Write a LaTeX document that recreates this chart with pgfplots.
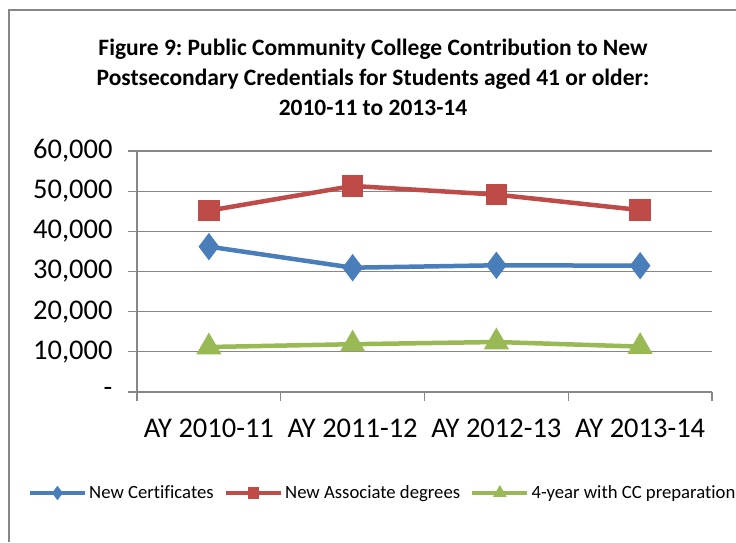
\documentclass[border=0pt]{standalone}
\usepackage{pgfplots}
\pgfplotsset{compat=1.18}
\usepackage{fontspec}
\setmainfont[Ligatures=NoCommon]{Carlito}
\frenchspacing
\definecolor{cblue}{HTML}{4A7EBB}
\definecolor{cred}{HTML}{BE4B48}
\definecolor{cgreen}{HTML}{98B954}
\definecolor{cgrid}{HTML}{878787}
\begin{document}
\begin{tikzpicture}[x=1pt,y=1pt]
\useasboundingbox (0,0) rectangle (736,-542);
\draw[cgrid, line width=2pt] (9,-542) -- (9,-10) -- (736,-10);
\node[font=\bfseries\fontsize{23.5}{30}\selectfont, align=center] at (373,-77)
  {Figure 9: Public Community College Contribution to New\\Postsecondary Credentials for Students aged 41 or older:\\2010-11 to 2013-14};
\begin{axis}[
  at={(137pt,-392pt)}, anchor=south west,
  width=575pt, height=241pt, scale only axis,
  xmin=0, xmax=4, ymin=0, ymax=60000,
  scaled y ticks=false,
  axis x line*=bottom, axis y line*=left,
  axis line style={cgrid, line width=1.3pt, -},
  xtick={0,1,2,3,4},
  xticklabels={AY 2010-11,AY 2011-12,AY 2012-13,AY 2013-14,},
  x tick label as interval,
  ytick={0,10000,20000,30000,40000,50000,60000},
  yticklabels={-,{10,000},{20,000},{30,000},{40,000},{50,000},{60,000}},
  tick align=outside, major tick length=9pt,
  tick style={cgrid, line width=1.3pt},
  ymajorgrids, grid style={cgrid, line width=1.3pt},
  ticklabel style={font=\fontsize{28.5}{30}\selectfont},
  yticklabel style={xshift=-12pt},
  xticklabel style={yshift=-14pt},
  clip=false,
  legend columns=3,
  legend style={at={(0.427,-0.419)}, anchor=center, draw=none, fill=none,
    font=\fontsize{18.7}{21}\selectfont,
    /tikz/every even column/.append style={column sep=8pt},
    inner sep=0pt},
  legend cell align=left,
  legend image code/.code={\draw[mark repeat=2,mark phase=2,#1,mark size=3.5pt] plot coordinates {(0pt,0pt) (27.5pt,0pt) (55pt,0pt)};},
]
\addplot[cblue, line width=4.5pt, mark=diamond*, mark size=10pt, mark options={solid}]
  coordinates {(0.5,36200) (1.5,30950) (2.5,31550) (3.5,31450)};
\addlegendentry{New Certificates}
\addplot[cred, line width=4.5pt, mark=square*, mark size=8.5pt, mark options={solid}]
  coordinates {(0.5,45150) (1.5,51300) (2.5,49150) (3.5,45300)};
\addlegendentry{New Associate degrees}
\addplot[cgreen, line width=4.5pt, mark=triangle*, mark size=10pt, mark options={solid}]
  coordinates {(0.5,11200) (1.5,11900) (2.5,12450) (3.5,11300)};
\addlegendentry{4-year with CC preparation}
\end{axis}
\end{tikzpicture}
\end{document}
